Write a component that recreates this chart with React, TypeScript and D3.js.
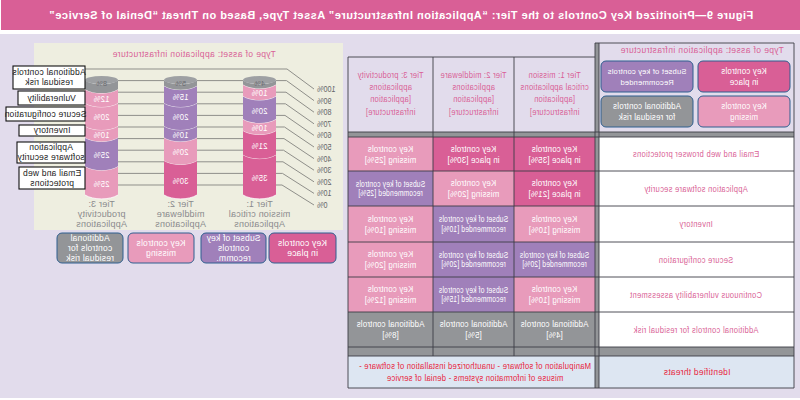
import React from "react";
import * as d3 from "d3";

const titleText = "Figure 9—Prioritized Key Controls to the Tier: “Application Infrastructure” Asset Type, Based on Threat “Denial of Service”";
const assetTitle = "Type of asset: application infrastructure";
const controls = ["Email and web browser protections", "Application software security", "Inventory", "Secure configuration", "Continuous vulnerability assessment", "Additional controls for residual risk"];
const tiers = ["Tier 1", "Tier 2", "Tier 3"];
const tier1Values = [35, 21, 10, 20, 10, 4];
const tier2Values = [30, 20, 10, 20, 15, 5];
const tier3Values = [25, 25, 10, 20, 12, 8];
const tier1Status = ["place", "place", "missing", "subset", "missing", "add"];
const tier2Status = ["place", "missing", "subset", "subset", "subset", "add"];
const tier3Status = ["missing", "subset", "missing", "missing", "missing", "add"];
const tierHeaders = [
  ["Tier 1: mission", "critical applications", "[application", "infrastructure]"],
  ["Tier 2: middleware", "applications", "[application", "infrastructure]"],
  ["Tier 3: productivity", "applications", "[application", "infrastructure]"],
];
const tierAxisLabels = [
  ["Tier 1:", "mission critical", "Applications"],
  ["Tier 2:", "middleware", "Applications"],
  ["Tier 3:", "productivity", "Applications"],
];
const yTicks = [0, 10, 20, 30, 40, 50, 60, 70, 80, 90, 100];
const threatLines = ["Manipulation of software - unauthorized installation of software -", "misuse of information systems - denial of service"];
const chartLegend = [
  { key: "place", lines: ["Key controls", "in place"] },
  { key: "subset", lines: ["Subset of key", "controls", "recomm."] },
  { key: "missing", lines: ["Key controls", "missing"] },
  { key: "add", lines: ["Additional", "controls for", "residual risk"] },
];
const tableLegend = [
  { key: "place", lines: ["Key controls", "in place"] },
  { key: "subset", lines: ["Subset of key controls", "Recommended"] },
  { key: "missing", lines: ["Key controls", "missing"] },
  { key: "add", lines: ["Additional controls", "for residual risk"] },
];
const sideLabels = [
  ["Email and web", "protections"],
  ["Application", "software security"],
  ["Inventory"],
  ["Secure configuration"],
  ["Vulnerability"],
  ["Additional controls", "residual risk"],
];

const colors: Record<string, string> = { place: "#D95F96", missing: "#E89BBB", subset: "#A080BA", add: "#939598" };
const cellText: Record<string, string[]> = {
  place: ["Key controls", "in place"],
  missing: ["Key controls", "missing"],
  subset: ["Subset of key controls", "recommended"],
  add: ["Additional controls", ""],
};
const tierValues = [tier1Values, tier2Values, tier3Values];
const tierStatus = [tier1Status, tier2Status, tier3Status];

const FONT = "'Liberation Sans', Arial, sans-serif";
const LINE = "#3c3c46";

function T({ x, y, lines, size = 9, fill = "#fff", lh = 11, anchor = "middle", weight = 400, spacing = 0.2, sx = 1 }: any) {
  const ls: string[] = Array.isArray(lines) ? lines : [lines];
  const y0 = y - ((ls.length - 1) * lh) / 2;
  return (
    <g transform={`translate(${x},0) scale(${-sx},1)`}>
      {ls.map((l, i) => (
        <text key={i} x={0} y={y0 + i * lh} dy="0.35em" textAnchor={anchor} fontSize={size} fill={fill} fontWeight={weight} fontFamily={FONT} letterSpacing={spacing}>{l}</text>
      ))}
    </g>
  );
}

export default function App() {
  const band = d3.scaleBand<string>().domain(["Tier 3", "Tier 2", "Tier 1"]).range([85, 276]).paddingInner(46 / 79).paddingOuter(0);
  const cylY = d3.scaleLinear().domain([0, 100]).range([195, 80]);
  const gridY = d3.scaleLinear().domain([0, 100]).range([185, 69]);
  const tickY = d3.scaleLinear().domain([0, 100]).range([205, 89]);
  const rx = band.bandwidth() / 2;
  const ry = 4;

  const colEdges = [595, 514, 433, 348];
  const rowEdges = [137, 171, 206, 242, 277, 312, 347];

  const edge = (x0: number, x1: number, y: number) => {
    const p = d3.path();
    p.moveTo(x0, y);
    p.bezierCurveTo(x0 + rx * 0.5, y + ry * 1.3, x1 - rx * 0.5, y + ry * 1.3, x1, y);
    return p.toString();
  };
  const segPath = (x0: number, x1: number, yTop: number, yBot: number) => {
    const p = d3.path();
    p.moveTo(x0, yTop);
    p.lineTo(x0, yBot);
    p.bezierCurveTo(x0 + rx * 0.5, yBot + ry * 1.3, x1 - rx * 0.5, yBot + ry * 1.3, x1, yBot);
    p.lineTo(x1, yTop);
    p.bezierCurveTo(x1 - rx * 0.5, yTop + ry * 1.3, x0 + rx * 0.5, yTop + ry * 1.3, x0, yTop);
    p.closePath();
    return p.toString();
  };

  return (
    <svg width={800} height={400} style={{ position: "absolute", left: 0, top: 0, background: "#fff" }}>
      <rect x={1} y={0} width={799} height={30} fill={colors.place} />
      <T x={401} y={15} lines={titleText} size={11} weight={700} spacing={0.5} />
      <rect x={0} y={34} width={800} height={364} fill="#E2DCEC" />
      <rect x={34} y={43} width={309} height={187} fill="#EEEEE0" />
      <T x={194} y={54} lines={assetTitle} size={9.5} fill={colors.place} spacing={0.45} sx={0.89} />

      {yTicks.map((t) => (
        <g key={t}>
          <polyline points={`85,${gridY(t)} ${287 - (100 - t) * 0.05},${gridY(t)} 314,${tickY(t)}`} fill="none" stroke="#8f8f8a" strokeWidth={1} />
          <T x={317} y={tickY(t)} lines={`${t}%`} size={8.5} fill="#66666a" anchor="end" sx={0.85} spacing={0} />
        </g>
      ))}

      {tiers.map((tier, ti) => {
        const x0 = band(tier)!;
        const x1 = x0 + band.bandwidth();
        const vals = tierValues[ti];
        const cum = d3.cumsum(vals);
        return (
          <g key={tier}>
            {vals.map((v, i) => {
              const lo = i === 0 ? 0 : cum[i - 1];
              const hi = cum[i];
              return (
                <g key={i}>
                  <path d={segPath(x0, x1, cylY(hi), cylY(lo))} fill={colors[tierStatus[ti][i]]} />
                  <path d={edge(x0, x1, cylY(hi))} fill="none" stroke="#fff" strokeWidth={0.8} />
                  {i === 0 && <path d={edge(x0, x1, cylY(0))} fill="none" stroke="#fff" strokeWidth={0.8} />}
                  {i < 5 && <T x={(x0 + x1) / 2} y={cylY((lo + hi) / 2) + 3} lines={`${v}%`} size={8.5} sx={0.9} />}
                </g>
              );
            })}
            <ellipse cx={(x0 + x1) / 2} cy={cylY(100)} rx={rx} ry={ry} fill={d3.color(colors.add)!.brighter(0.2).toString()} />
            <T x={(x0 + x1) / 2} y={cylY(100) + 3} lines={`${vals[5]}%`} size={8} sx={0.9} fill="#6b6b70" />
            <T x={(x0 + x1) / 2} y={214} lines={tierAxisLabels[ti]} size={9} fill="#8a8a8d" lh={9.7} />
          </g>
        );
      })}

      {sideLabels.map((lines, i) => {
        const [bx, by, bh] = [[19, 167, 22], [17, 142, 21], [19, 125, 11], [6, 107, 14], [18, 91, 14], [13, 66, 23]][i];
        return (
          <g key={i}>
            <rect x={bx} y={by} width={85 - bx} height={bh} fill="#fff" stroke="#111" strokeWidth={1.1} />
            <T x={(bx + 85) / 2} y={by + bh / 2} lines={lines} size={8.5} fill="#222" lh={10} />
          </g>
        );
      })}

      {chartLegend.map((d, i) => {
        const [lx, lw] = [[269, 67], [201, 65], [128, 66], [57, 66]][i];
        return (
          <g key={d.key}>
            <rect x={lx} y={233} width={lw} height={30} rx={5} fill={colors[d.key]} stroke="#2F5F8F" strokeWidth={1} />
            <T x={lx + lw / 2} y={248} lines={d.lines} size={8.5} lh={9.6} />
          </g>
        );
      })}

      <rect x={599} y={137} width={195} height={210} fill="#fff" />
      <rect x={599} y={356} width={195} height={32} fill="#DDE6F2" />
      <rect x={348} y={356} width={247} height={32} fill="#DDE6F2" />
      <rect x={595} y={43} width={4} height={345} fill="#939598" />
      <rect x={348} y={132} width={446} height={5} fill="#939598" />
      <rect x={348} y={347} width={446} height={9} fill="#939598" />

      {tiers.map((tier, ti) => {
        const xr = colEdges[ti];
        const xl = colEdges[ti + 1];
        return (
          <g key={tier}>
            <T x={(xl + xr) / 2} y={93} lines={tierHeaders[ti]} size={9.2} fill={colors.place} lh={12.3} spacing={0.3} sx={0.82} />
            {controls.map((c, ri) => {
              const s = tierStatus[ti][ri];
              const v = tierValues[ti][ri];
              const base = cellText[s];
              const lines = s === "add" ? [base[0], `[${v}%]`] : [base[0], `${base[1]} [${v}%]`];
              const small = s === "subset";
              return (
                <g key={c}>
                  <rect x={xl} y={rowEdges[ri]} width={xr - xl} height={rowEdges[ri + 1] - rowEdges[ri]} fill={colors[s]} />
                  <T x={(xl + xr) / 2} y={(rowEdges[ri] + rowEdges[ri + 1]) / 2} lines={lines} size={small ? 8.4 : 9} lh={small ? 9.6 : 11} sx={small ? 0.8 : 0.88} />
                </g>
              );
            })}
          </g>
        );
      })}

      {controls.map((c, ri) => (
        <T key={c} x={696} y={(rowEdges[ri] + rowEdges[ri + 1]) / 2} lines={c} size={9} fill={colors.place} spacing={0.35} sx={0.835} />
      ))}

      {rowEdges.map((y) => (
        <line key={y} x1={348} x2={794} y1={y} y2={y} stroke={LINE} strokeWidth={0.9} />
      ))}
      {[356, 388, 132].map((y) => (
        <line key={y} x1={348} x2={794} y1={y} y2={y} stroke={LINE} strokeWidth={0.9} />
      ))}
      <line x1={348} x2={595} y1={57} y2={57} stroke={LINE} strokeWidth={0.9} />
      <line x1={595} x2={794} y1={43} y2={43} stroke={LINE} strokeWidth={0.9} />
      {[348, 433, 514].map((x) => (
        <line key={x} x1={x} x2={x} y1={57} y2={356} stroke={LINE} strokeWidth={0.9} />
      ))}
      <line x1={348} x2={348} y1={356} y2={388} stroke={LINE} strokeWidth={0.9} />
      {[595, 599, 794].map((x) => (
        <line key={x} x1={x} x2={x} y1={43} y2={388} stroke={LINE} strokeWidth={0.9} />
      ))}

      <T x={702} y={50} lines={assetTitle} size={9.5} fill={colors.place} spacing={0.45} sx={0.89} />
      {tableLegend.map((d, i) => {
        const lx = i % 2 === 0 ? 698 : 601;
        const ly = i < 2 ? 61 : 96;
        return (
          <g key={d.key}>
            <rect x={lx} y={ly} width={92} height={31} rx={5} fill={colors[d.key]} stroke="#2F5F8F" strokeWidth={1} />
            <T x={lx + 46} y={ly + 15.5} lines={d.lines} size={d.key === "subset" ? 8 : 8.8} lh={11} sx={d.key === "subset" ? 0.95 : 0.9} />
          </g>
        );
      })}

      <T x={697} y={372} lines="Identified threats" size={9.2} fill="#E8233C" spacing={0.35} sx={0.9} />
      <T x={475} y={372} lines={threatLines} size={9.2} fill="#E8233C" lh={12.5} spacing={0.3} sx={0.83} />
    </svg>
  );
}
